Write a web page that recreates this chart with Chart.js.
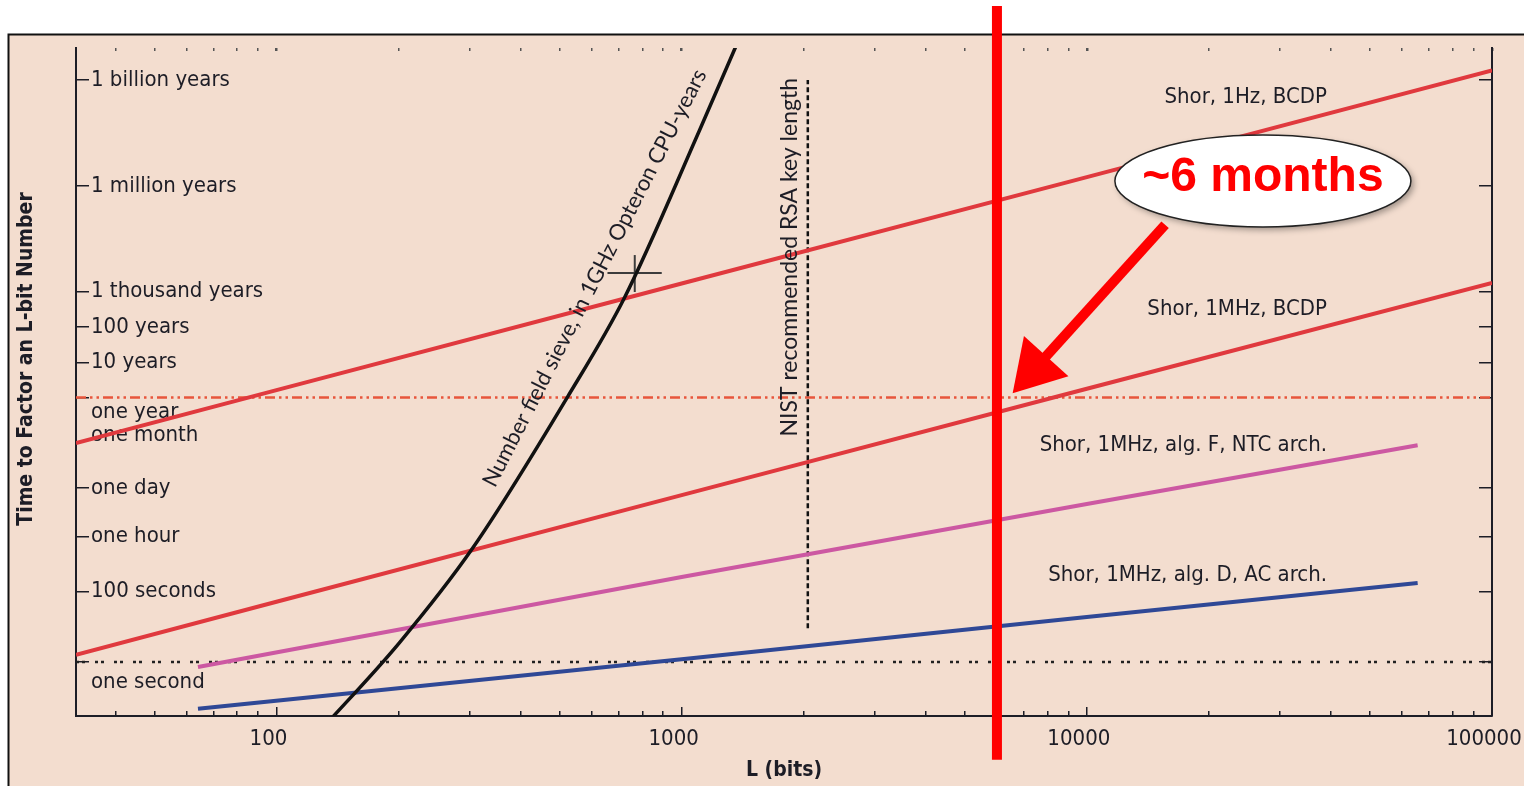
<!DOCTYPE html>
<html>
<head>
<meta charset="utf-8">
<title>Time to factor an L-bit number</title>
<script src="https://cdn.jsdelivr.net/npm/chart.js@4.4.1/dist/chart.umd.min.js"></script>
<style>
  html, body { margin: 0; padding: 0; background: #fff; }
  canvas { display: block; }
</style>
</head>
<body>
<canvas id="chart" width="1524" height="786"></canvas>
<script>
// x axis: key length in bits
const L_MIN = 32;
const L_MAX = 100000;
const L_MAJOR = [100, 1000, 10000, 100000];
const L_MINOR = [40, 50, 60, 70, 80, 90, 200, 300, 400, 500, 600, 700, 800, 900,
  2000, 3000, 4000, 5000, 6000, 7000, 8000, 9000,
  20000, 30000, 40000, 50000, 60000, 70000, 80000, 90000];

// y axis: time in seconds
const T_MIN = 0.0294;
const T_MAX = 2.57e17;
const ONE_SECOND = 1;
const ONE_MONTH = 2.63e6;
const ONE_YEAR = 3.156e7;
const T_TICKS = [1, 100, 3600, 86400, 2.63e6, 3.156e7, 3.156e8, 3.156e9, 3.156e10, 3.156e13, 3.156e16];
const T_LABELS = ['one second', '100 seconds', 'one hour', 'one day', 'one month', 'one year',
  '10 years', '100 years', '1 thousand years', '1 million years', '1 billion years'];

// Shor's algorithm curves
const SHOR_L = [32, 100, 1000, 10000, 100000];
const SHOR_1HZ_BCDP = [1.6e6, 5.1e7, 5.4e10, 5.6e13, 5.9e16];
const SHOR_1MHZ_BCDP = [1.6, 51, 5.4e4, 5.6e7, 5.6e10];
const ALG_L = [64, 1000, 10000, 65536];
const SHOR_ALG_F_NTC = [0.72, 257, 3.0e4, 1.4e6];
const SHOR_ALG_D_AC = [0.047, 1.2, 19, 174];

// number field sieve
const NFS_L = [127, 201, 305, 523, 722, 1107, 1352, 1420];
const NFS_T = [0.01, 3.5, 1700, 3.3e7, 2.1e10, 1.2e15, 2.4e17, 8.7e17];

// RSA-768 marker (centre and error range)
const RSA768_L = [656, 766, 893];
const RSA768_T = [3.1e10, 1.07e11, 3.46e11];

// NIST recommended key length
const NIST_L = [2048, 2048];
const NIST_T = [9, 3.156e16];

// "~6 months" annotation
const SIX_MONTHS_L = [6000, 6000];
const SIX_MONTHS_T = [1.7e-3, 4e18];
const ARROW_FROM = { x: 15600, y: 2.5e12 };
const ARROW_TIP = { x: 6560, y: 4.2e7 };
const BUBBLE_AT = { x: 27200, y: 4.35e13 };

const SERIES_NOTES = [
  { text: 'Shor, 1Hz, BCDP', x: 39150, y: 1.05e16 },
  { text: 'Shor, 1MHz, BCDP', x: 39150, y: 1.02e10 },
  { text: 'Shor, 1MHz, alg. F, NTC arch.', x: 39150, y: 1.42e6 },
  { text: 'Shor, 1MHz, alg. D, AC arch.', x: 39150, y: 293 },
];
const ROTATED_NOTES = [
  { text: 'Number field sieve, in 1GHz Opteron CPU-years', x: 610, y: 7.7e10, angle: -62.9, size: 22 },
  { text: 'NIST recommended RSA key length', x: 1848, y: 3.0e11, angle: -90, size: 23 },
];

const INK = '#1d1d26';
const DIN = "'DejaVu Sans Condensed', 'Liberation Sans Narrow', 'DejaVu Sans', sans-serif";
const HUMAN = "Lato, 'Open Sans', sans-serif";
const ARIAL = "'Liberation Sans', Arial, sans-serif";
const LABEL_DROP = { 0: 40, 5: 30 };

const pts = (xs, ys) => xs.map((x, i) => ({ x, y: ys[i] }));

function line(data, color, width, extra) {
  return Object.assign({
    data,
    borderColor: color,
    borderWidth: width,
    pointRadius: 0,
    fill: false,
    borderCapStyle: 'butt',
  }, extra || {});
}

function noPadding(scale) {
  scale.paddingLeft = 0;
  scale.paddingRight = 0;
  scale.paddingTop = 0;
  scale.paddingBottom = 0;
}

const framePlugin = {
  id: 'frame',
  beforeDraw(chart) {
    const { ctx, width, height } = chart;
    ctx.save();
    ctx.fillStyle = '#ffffff';
    ctx.fillRect(0, 0, width, height);
    ctx.fillStyle = '#f3ddcf';
    ctx.fillRect(8, 34, width, height);
    ctx.strokeStyle = '#111';
    ctx.lineWidth = 2;
    ctx.beginPath();
    ctx.moveTo(8.5, height);
    ctx.lineTo(8.5, 34.5);
    ctx.lineTo(width, 34.5);
    ctx.stroke();
    ctx.restore();
  },
};

const notesPlugin = {
  id: 'notes',
  afterDatasetsDraw(chart) {
    const { ctx } = chart;
    const x = chart.scales.x;
    const y = chart.scales.y;
    const px = (v) => x.getPixelForValue(v);
    const py = (v) => y.getPixelForValue(v);
    ctx.save();

    ctx.fillStyle = INK;
    ctx.font = `22px ${DIN}`;
    ctx.textAlign = 'right';
    ctx.textBaseline = 'middle';
    SERIES_NOTES.forEach((n) => ctx.fillText(n.text, px(n.x), py(n.y)));

    ctx.textAlign = 'center';
    ROTATED_NOTES.forEach((n) => {
      ctx.save();
      ctx.font = `${n.size}px ${HUMAN}`;
      ctx.translate(px(n.x), py(n.y));
      ctx.rotate(n.angle * Math.PI / 180);
      ctx.fillText(n.text, 0, 0);
      ctx.restore();
    });

    // arrow
    const x0 = px(ARROW_FROM.x), y0 = py(ARROW_FROM.y);
    const x1 = px(ARROW_TIP.x), y1 = py(ARROW_TIP.y);
    const len = Math.hypot(x1 - x0, y1 - y0);
    const dx = (x1 - x0) / len, dy = (y1 - y0) / len;
    const head = 50, half = 30;
    const bx = x1 - dx * head, by = y1 - dy * head;
    ctx.strokeStyle = '#ff0000';
    ctx.fillStyle = '#ff0000';
    ctx.lineWidth = 10;
    ctx.beginPath();
    ctx.moveTo(x0, y0);
    ctx.lineTo(bx + dx * 2, by + dy * 2);
    ctx.stroke();
    ctx.beginPath();
    ctx.moveTo(x1, y1);
    ctx.lineTo(bx - dy * half, by + dx * half);
    ctx.lineTo(bx + dy * half, by - dx * half);
    ctx.closePath();
    ctx.fill();

    // bubble
    const cx = px(BUBBLE_AT.x), cy = py(BUBBLE_AT.y);
    ctx.save();
    ctx.shadowColor = 'rgba(0,0,0,0.35)';
    ctx.shadowBlur = 6;
    ctx.shadowOffsetX = 3;
    ctx.shadowOffsetY = 3;
    ctx.fillStyle = '#ffffff';
    ctx.beginPath();
    ctx.ellipse(cx, cy, 148, 46, 0, 0, Math.PI * 2);
    ctx.fill();
    ctx.restore();
    ctx.strokeStyle = '#222';
    ctx.lineWidth = 1.5;
    ctx.beginPath();
    ctx.ellipse(cx, cy, 148, 46, 0, 0, Math.PI * 2);
    ctx.stroke();
    ctx.fillStyle = '#ff0000';
    ctx.font = `bold 48px ${ARIAL}`;
    ctx.textAlign = 'center';
    ctx.textBaseline = 'middle';
    ctx.fillText('~6 months', cx, cy - 3);

    // y axis title
    ctx.save();
    ctx.translate(27, 359);
    ctx.rotate(-Math.PI / 2);
    ctx.fillStyle = INK;
    ctx.font = `bold 21px ${DIN}`;
    ctx.fillText('Time to Factor an L-bit Number', 0, 0);
    ctx.restore();

    ctx.restore();
  },
};

const logAxis = (min, max, extra) => Object.assign({ type: 'logarithmic', min, max }, extra);

new Chart(document.getElementById('chart'), {
  type: 'line',
  data: {
    datasets: [
      line(pts(SIX_MONTHS_L, SIX_MONTHS_T), '#ff0000', 10, { clip: false }),
      line(pts(NFS_L, NFS_T), '#111111', 3.5, { cubicInterpolationMode: 'monotone' }),
      line(pts(SHOR_L, SHOR_1HZ_BCDP), '#e0393e', 4),
      line(pts(SHOR_L, SHOR_1MHZ_BCDP), '#e0393e', 4),
      line(pts(ALG_L, SHOR_ALG_F_NTC), '#cc58a2', 4),
      line(pts(ALG_L, SHOR_ALG_D_AC), '#2f4896', 4),
      line(pts(NIST_L, NIST_T), '#111111', 2.5, { borderDash: [5, 3] }),
      line(pts([L_MIN, L_MAX], [ONE_YEAR, ONE_YEAR]), '#e8553c', 2.5, { borderDash: [10, 4, 2.5, 4, 2.5, 4] }),
      line(pts([L_MIN, L_MAX], [ONE_SECOND, ONE_SECOND]), '#222222', 2.5, { borderDash: [3, 3, 3, 10] }),
      line(pts([RSA768_L[0], RSA768_L[2]], [RSA768_T[1], RSA768_T[1]]), '#3c3c3c', 2),
      line(pts([RSA768_L[1], RSA768_L[1]], [RSA768_T[0], RSA768_T[2]]), '#3c3c3c', 2),
    ],
  },
  options: {
    responsive: false,
    animation: false,
    events: [],
    layout: { padding: 0 },
    plugins: { legend: { display: false }, tooltip: { enabled: false } },
    scales: {
      x: logAxis(L_MIN, L_MAX, {
        position: 'bottom',
        weight: 1,
        afterBuildTicks: (s) => { s.ticks = L_MAJOR.map((value) => ({ value, major: true })); },
        afterFit: (s) => { s.height = 70; noPadding(s); },
        ticks: {
          autoSkip: false, maxRotation: 0, padding: 19, labelOffset: -8, color: INK,
          font: { family: DIN, size: 22 },
          callback: (v) => String(v),
        },
        grid: { drawOnChartArea: false, tickLength: -9, color: INK, lineWidth: 1.5 },
        border: { display: false },
        title: { display: true, text: 'L (bits)', color: INK, font: { family: DIN, size: 21, weight: 'bold' }, padding: { top: 0, bottom: 3 } },
      }),
      xMinor: logAxis(L_MIN, L_MAX, {
        position: 'bottom',
        weight: 0,
        afterBuildTicks: (s) => { s.ticks = L_MINOR.map((value) => ({ value })); },
        afterFit: (s) => { s.height = 0; noPadding(s); },
        ticks: { display: false },
        grid: { drawOnChartArea: false, tickLength: -5, color: INK, lineWidth: 1.5 },
        border: { display: true, color: INK, width: 2 },
      }),
      xTop: logAxis(L_MIN, L_MAX, {
        position: 'top',
        afterBuildTicks: (s) => {
          s.ticks = L_MINOR.map((value) => ({ value })).concat(L_MAJOR.map((value) => ({ value, major: true })));
        },
        afterFit: (s) => { s.height = 48; noPadding(s); },
        ticks: { display: false },
        grid: {
          drawOnChartArea: false, tickLength: -3, color: '#555',
          lineWidth: (c) => (c.tick && c.tick.major ? 2.5 : 1.5),
        },
        border: { display: false },
      }),
      y: logAxis(T_MIN, T_MAX, {
        position: 'left',
        afterBuildTicks: (s) => { s.ticks = T_TICKS.map((value) => ({ value })); },
        afterFit: (s) => { s.width = 76; noPadding(s); },
        ticks: {
          mirror: true, padding: 15, autoSkip: false, color: INK,
          font: (c) => ({ family: DIN, size: 22, lineHeight: LABEL_DROP[c.index] ? LABEL_DROP[c.index] + 'px' : 1.2 }),
          callback: (v, i) => (LABEL_DROP[i] ? ['', T_LABELS[i]] : T_LABELS[i]),
        },
        grid: {
          drawOnChartArea: false, tickLength: -13, lineWidth: 1.5,
          color: (c) => (c.tick && c.tick.value === ONE_MONTH ? 'rgba(0,0,0,0)' : INK),
        },
        border: { display: true, color: INK, width: 2 },
      }),
      yRight: logAxis(T_MIN, T_MAX, {
        position: 'right',
        afterBuildTicks: (s) => { s.ticks = T_TICKS.filter((v) => v !== ONE_MONTH).map((value) => ({ value })); },
        afterFit: (s) => { s.width = 32; noPadding(s); },
        ticks: { display: false },
        grid: { drawOnChartArea: false, tickLength: -13, color: INK, lineWidth: 1.5 },
        border: { display: true, color: INK, width: 2 },
      }),
    },
  },
  plugins: [framePlugin, notesPlugin],
});
</script>
</body>
</html>
